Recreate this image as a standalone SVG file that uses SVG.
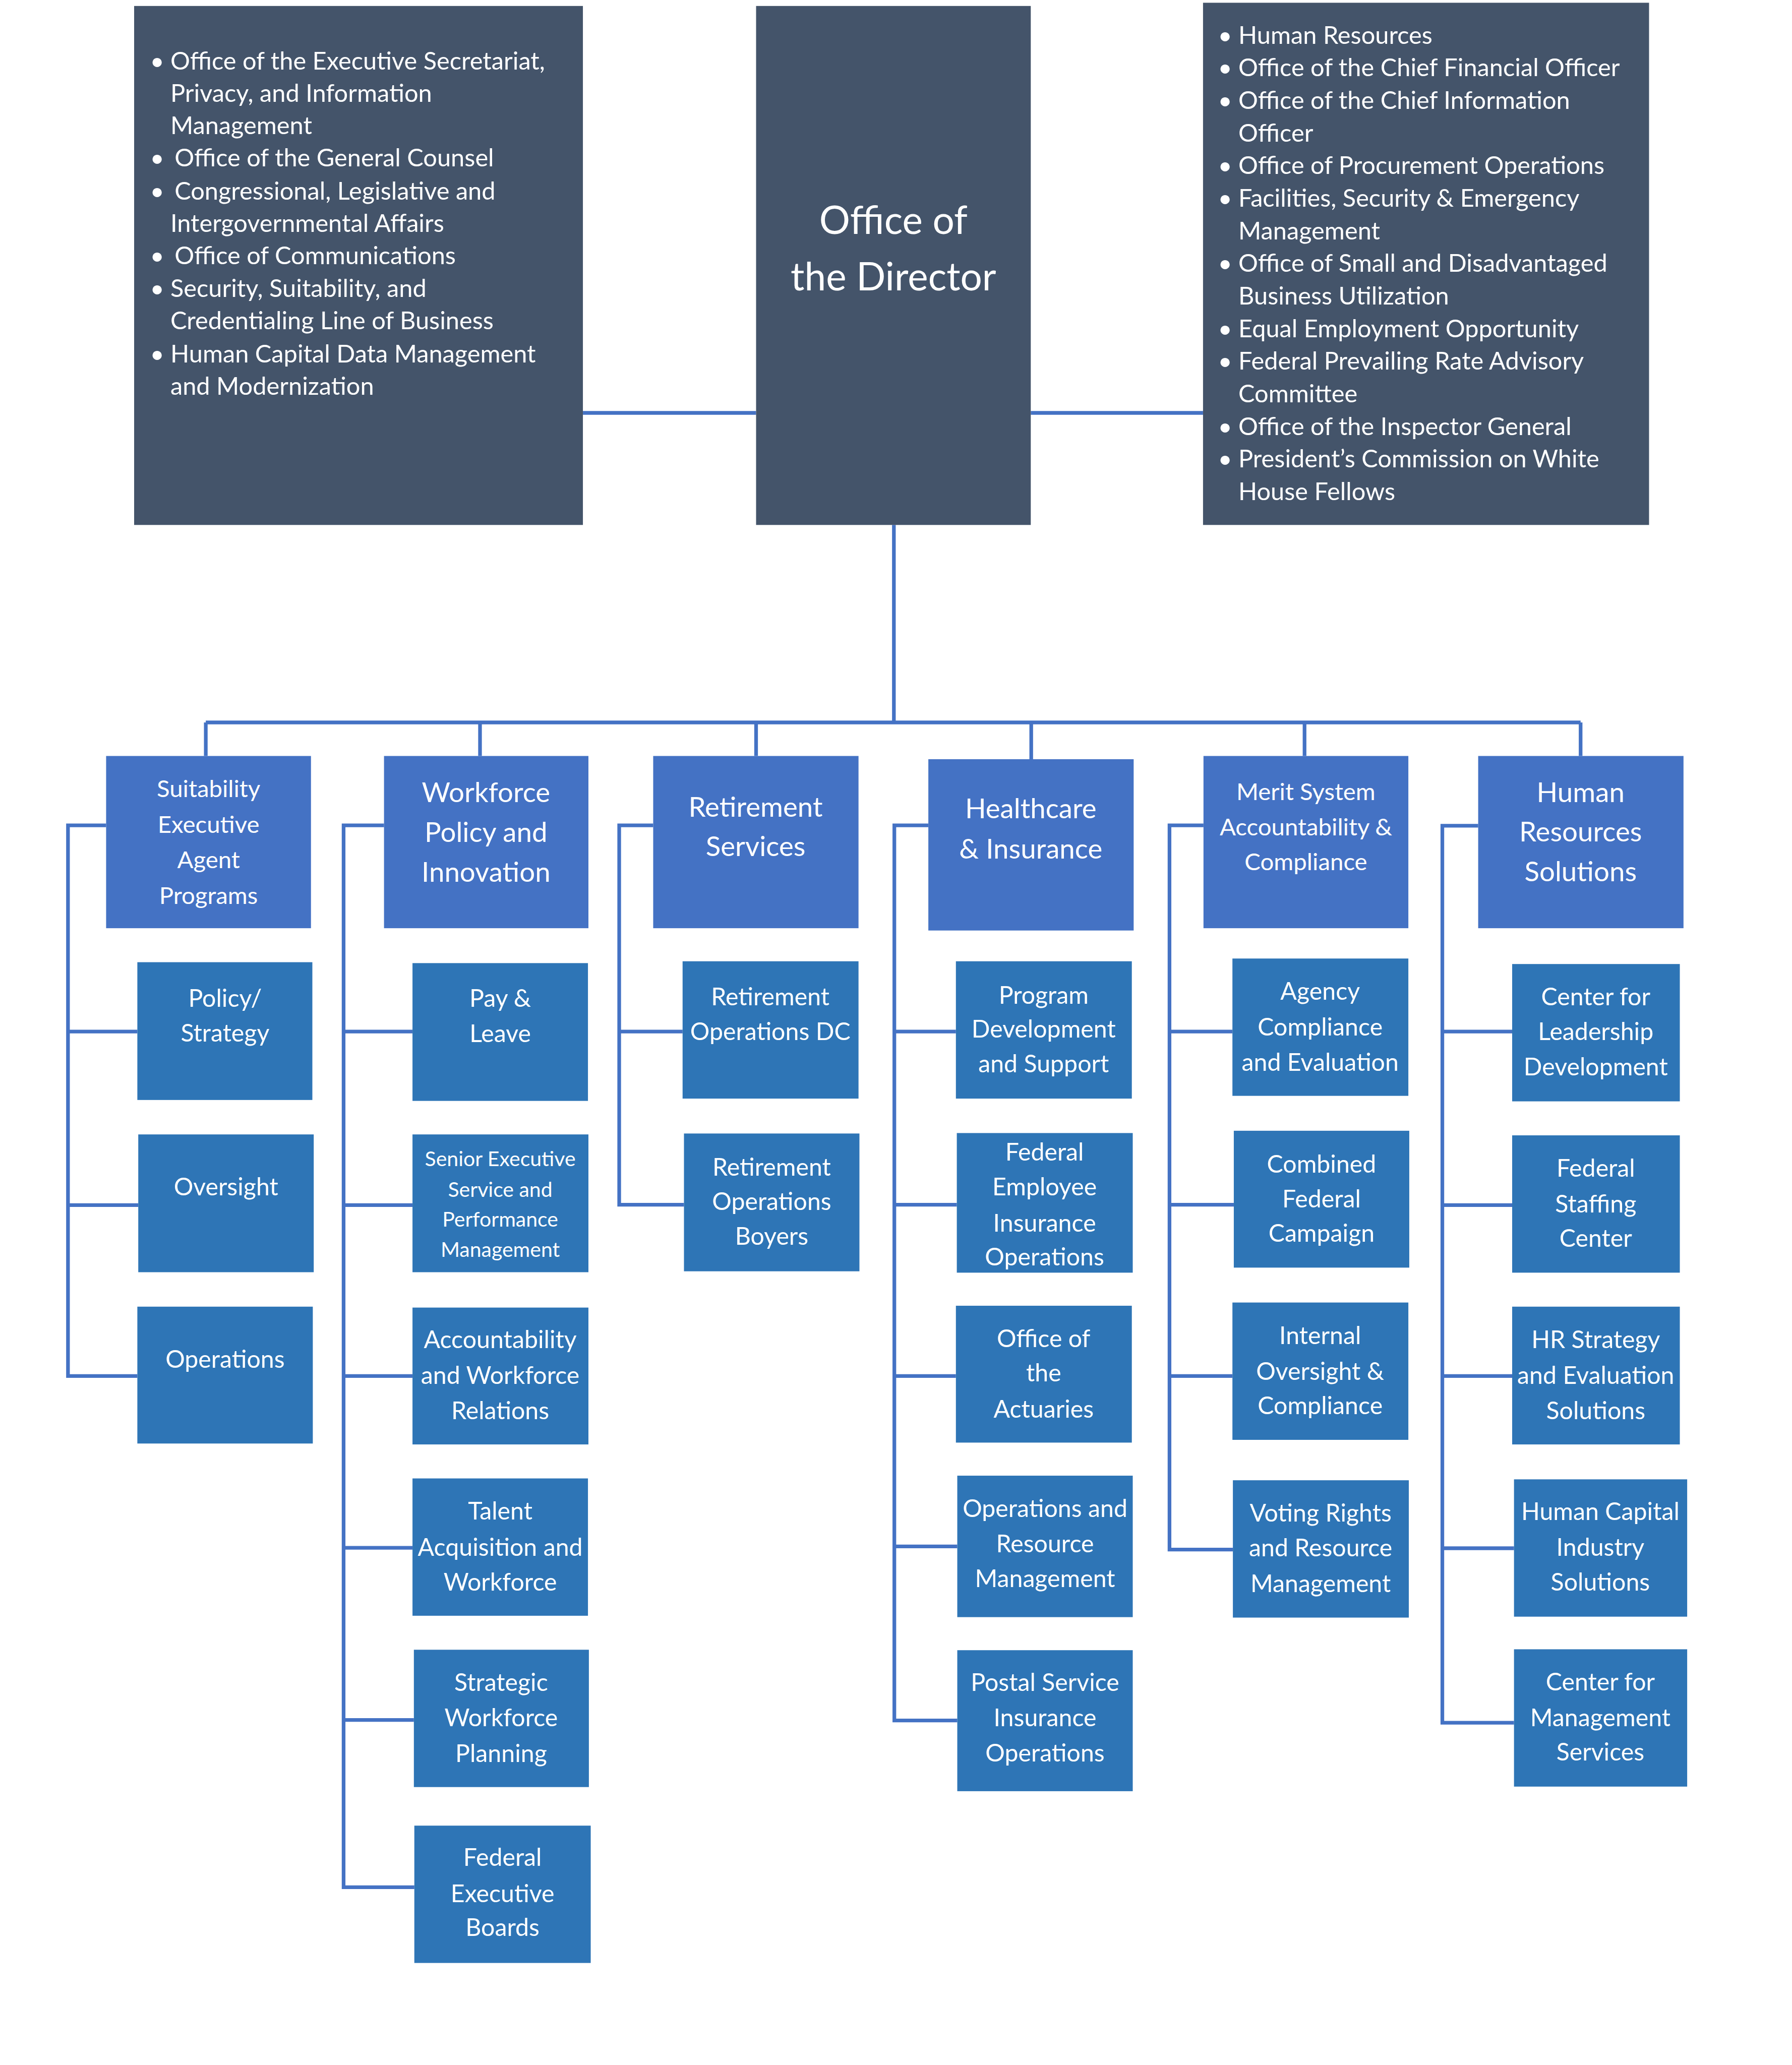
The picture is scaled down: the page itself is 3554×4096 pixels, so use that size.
<svg xmlns="http://www.w3.org/2000/svg" width="3554" height="4096" viewBox="0 0 3554 4096">
<style>
.top{fill:#44546A}
.l1{fill:#4472C4}
.l2{fill:#2E75B6}
.con path{fill:none;stroke:#4472C4;stroke-width:8}
text{font-family:Lato,"Liberation Sans",sans-serif;fill:#FFFFFF}
.c{text-anchor:middle}
.dir{font-size:84px}
.bul{font-size:53.5px}
.bdot{font-size:53.5px;text-anchor:middle}
.t1{font-size:60px;text-anchor:middle}
.t1s{font-size:52px;text-anchor:middle}
.t2{font-size:53px;text-anchor:middle}
.t2s{font-size:45px;text-anchor:middle}
</style>
<rect width="3554" height="4096" fill="#FFFFFF"/>
<g transform="scale(0.911)">
<g id="connectors" class="con">
<path d="M1269 899H1646"/>
<path d="M2244 899H2619"/>
<path d="M1946 1143V1573"/>
<path d="M448 1573H3441"/>
<path d="M448 1573V1646M1045 1573V1646M1646 1573V1646M2245 1573V1653M2840 1573V1646M3441 1573V1646"/>
<path d="M231 1797H148V2996H299M148 2246H299M148 2624H301"/>
<path d="M836 1797H748V4109H902M748 2246H898M748 2624H898M748 2996H898M748 3370H898M748 3745H901"/>
<path d="M1422 1797H1348V2623H1489M1348 2246H1486"/>
<path d="M2021 1797H1947V3746H2084M1947 2246H2081M1947 2623H2083M1947 2996H2081M1947 3367H2084"/>
<path d="M2620 1797H2546V3374H2684M2546 2246H2683M2546 2623H2686M2546 2996H2683"/>
<path d="M3218 1798H3140V3751H3296M3140 2246H3292M3140 2624H3292M3140 2996H3292M3140 3371H3296"/>
</g>
<g id="staff-left">
<rect class="top" x="292" y="13" width="977" height="1130"/>
<text class="bdot" x="342" y="152">•</text><text class="bul" x="371" y="152">Office of the Executive Secretariat,</text>
<text class="bul" x="371" y="222">Privacy, and Information</text>
<text class="bul" x="371" y="292">Management</text>
<text class="bdot" x="342" y="362">•</text><text class="bul" x="380" y="362">Office of the General Counsel</text>
<text class="bdot" x="342" y="435">•</text><text class="bul" x="380" y="435">Congressional, Legislative and</text>
<text class="bul" x="371" y="505">Intergovernmental Affairs</text>
<text class="bdot" x="342" y="575">•</text><text class="bul" x="380" y="575">Office of Communications</text>
<text class="bdot" x="342" y="647">•</text><text class="bul" x="371" y="647">Security, Suitability, and</text>
<text class="bul" x="371" y="717">Credentialing Line of Business</text>
<text class="bdot" x="342" y="789">•</text><text class="bul" x="371" y="789">Human Capital Data Management</text>
<text class="bul" x="371" y="860">and Modernization</text>
</g>
<g id="director">
<rect class="top" x="1646" y="13" width="598" height="1130"/>
<text class="dir c" x="1945" y="509">Office of</text>
<text class="dir c" x="1945" y="632">the Director</text>
</g>
<g id="staff-right">
<rect class="top" x="2619" y="6" width="971" height="1137"/>
<text class="bdot" x="2667" y="95">•</text><text class="bul" x="2696" y="95">Human Resources</text>
<text class="bdot" x="2667" y="166">•</text><text class="bul" x="2696" y="166">Office of the Chief Financial Officer</text>
<text class="bdot" x="2667" y="237">•</text><text class="bul" x="2696" y="237">Office of the Chief Information</text>
<text class="bul" x="2696" y="308">Officer</text>
<text class="bdot" x="2667" y="379">•</text><text class="bul" x="2696" y="379">Office of Procurement Operations</text>
<text class="bdot" x="2667" y="450">•</text><text class="bul" x="2696" y="450">Facilities, Security &amp; Emergency</text>
<text class="bul" x="2696" y="521">Management</text>
<text class="bdot" x="2667" y="592">•</text><text class="bul" x="2696" y="592">Office of Small and Disadvantaged</text>
<text class="bul" x="2696" y="663">Business Utilization</text>
<text class="bdot" x="2667" y="734">•</text><text class="bul" x="2696" y="734">Equal Employment Opportunity</text>
<text class="bdot" x="2667" y="805">•</text><text class="bul" x="2696" y="805">Federal Prevailing Rate Advisory</text>
<text class="bul" x="2696" y="876">Committee</text>
<text class="bdot" x="2667" y="947">•</text><text class="bul" x="2696" y="947">Office of the Inspector General</text>
<text class="bdot" x="2667" y="1018">•</text><text class="bul" x="2696" y="1018">President’s Commission on White</text>
<text class="bul" x="2696" y="1089">House Fellows</text>
</g>
<g id="suitability">
<rect class="l1" x="231" y="1646" width="446" height="375"/>
<text class="t1s" x="454" y="1735">Suitability</text>
<text class="t1s" x="454" y="1813">Executive</text>
<text class="t1s" x="454" y="1890">Agent</text>
<text class="t1s" x="454" y="1968">Programs</text>
</g>
<g id="workforce">
<rect class="l1" x="836" y="1646" width="445" height="375"/>
<text class="t1" x="1058" y="1746">Workforce</text>
<text class="t1" x="1058" y="1833">Policy and</text>
<text class="t1" x="1058" y="1920">Innovation</text>
</g>
<g id="retirement">
<rect class="l1" x="1422" y="1646" width="447" height="375"/>
<text class="t1" x="1645" y="1778">Retirement</text>
<text class="t1" x="1645" y="1864">Services</text>
</g>
<g id="healthcare">
<rect class="l1" x="2021" y="1653" width="447" height="373"/>
<text class="t1" x="2244" y="1782">Healthcare</text>
<text class="t1" x="2244" y="1869">&amp; Insurance</text>
</g>
<g id="merit">
<rect class="l1" x="2620" y="1646" width="446" height="375"/>
<text class="t1s" x="2843" y="1742">Merit System</text>
<text class="t1s" x="2843" y="1819">Accountability &amp;</text>
<text class="t1s" x="2843" y="1895">Compliance</text>
</g>
<g id="hrs">
<rect class="l1" x="3218" y="1646" width="447" height="375"/>
<text class="t1" x="3441" y="1746">Human</text>
<text class="t1" x="3441" y="1832">Resources</text>
<text class="t1" x="3441" y="1919">Solutions</text>
</g>
<g id="policy-strategy">
<rect class="l2" x="299" y="2095" width="381" height="300"/>
<text class="t2" x="490" y="2192">Policy/</text>
<text class="t2" x="490" y="2268">Strategy</text>
</g>
<g id="oversight">
<rect class="l2" x="301" y="2470" width="382" height="300"/>
<text class="t2" x="492" y="2603">Oversight</text>
</g>
<g id="operations">
<rect class="l2" x="299" y="2845" width="382" height="298"/>
<text class="t2" x="490" y="2978">Operations</text>
</g>
<g id="pay-leave">
<rect class="l2" x="898" y="2097" width="382" height="300"/>
<text class="t2" x="1089" y="2192">Pay &amp;</text>
<text class="t2" x="1089" y="2269">Leave</text>
</g>
<g id="ses">
<rect class="l2" x="898" y="2470" width="383" height="300"/>
<text class="t2s" x="1089" y="2539">Senior Executive</text>
<text class="t2s" x="1089" y="2606">Service and</text>
<text class="t2s" x="1089" y="2671">Performance</text>
<text class="t2s" x="1089" y="2737">Management</text>
</g>
<g id="accountability">
<rect class="l2" x="898" y="2847" width="383" height="298"/>
<text class="t2" x="1089" y="2935">Accountability</text>
<text class="t2" x="1089" y="3013">and Workforce</text>
<text class="t2" x="1089" y="3090">Relations</text>
</g>
<g id="talent">
<rect class="l2" x="898" y="3219" width="382" height="299"/>
<text class="t2" x="1089" y="3308">Talent</text>
<text class="t2" x="1089" y="3387">Acquisition and</text>
<text class="t2" x="1089" y="3463">Workforce</text>
</g>
<g id="strategic">
<rect class="l2" x="901" y="3592" width="381" height="299"/>
<text class="t2" x="1091" y="3682">Strategic</text>
<text class="t2" x="1091" y="3759">Workforce</text>
<text class="t2" x="1091" y="3836">Planning</text>
</g>
<g id="feb">
<rect class="l2" x="902" y="3975" width="384" height="299"/>
<text class="t2" x="1094" y="4063">Federal</text>
<text class="t2" x="1094" y="4142">Executive</text>
<text class="t2" x="1094" y="4215">Boards</text>
</g>
<g id="ret-dc">
<rect class="l2" x="1486" y="2093" width="383" height="299"/>
<text class="t2" x="1677" y="2189">Retirement</text>
<text class="t2" x="1677" y="2265">Operations DC</text>
</g>
<g id="ret-boyers">
<rect class="l2" x="1489" y="2468" width="382" height="300"/>
<text class="t2" x="1680" y="2560">Retirement</text>
<text class="t2" x="1680" y="2634">Operations</text>
<text class="t2" x="1680" y="2710">Boyers</text>
</g>
<g id="program-dev">
<rect class="l2" x="2081" y="2093" width="383" height="299"/>
<text class="t2" x="2272" y="2186">Program</text>
<text class="t2" x="2272" y="2259">Development</text>
<text class="t2" x="2272" y="2335">and Support</text>
</g>
<g id="feio">
<rect class="l2" x="2083" y="2467" width="383" height="304"/>
<text class="t2" x="2274" y="2527">Federal</text>
<text class="t2" x="2274" y="2603">Employee</text>
<text class="t2" x="2274" y="2682">Insurance</text>
<text class="t2" x="2274" y="2755">Operations</text>
</g>
<g id="actuaries">
<rect class="l2" x="2081" y="2843" width="383" height="298"/>
<text class="t2" x="2272" y="2933">Office of</text>
<text class="t2" x="2272" y="3008">the</text>
<text class="t2" x="2272" y="3087">Actuaries</text>
</g>
<g id="ops-resource">
<rect class="l2" x="2084" y="3213" width="382" height="308"/>
<text class="t2" x="2275" y="3303">Operations and</text>
<text class="t2" x="2275" y="3380">Resource</text>
<text class="t2" x="2275" y="3456">Management</text>
</g>
<g id="postal">
<rect class="l2" x="2084" y="3593" width="382" height="307"/>
<text class="t2" x="2275" y="3682">Postal Service</text>
<text class="t2" x="2275" y="3759">Insurance</text>
<text class="t2" x="2275" y="3835">Operations</text>
</g>
<g id="agency-compliance">
<rect class="l2" x="2683" y="2087" width="383" height="299"/>
<text class="t2" x="2874" y="2177">Agency</text>
<text class="t2" x="2874" y="2255">Compliance</text>
<text class="t2" x="2874" y="2331">and Evaluation</text>
</g>
<g id="cfc">
<rect class="l2" x="2686" y="2462" width="382" height="298"/>
<text class="t2" x="2877" y="2553">Combined</text>
<text class="t2" x="2877" y="2629">Federal</text>
<text class="t2" x="2877" y="2704">Campaign</text>
</g>
<g id="internal-oversight">
<rect class="l2" x="2683" y="2836" width="383" height="299"/>
<text class="t2" x="2874" y="2927">Internal</text>
<text class="t2" x="2874" y="3004">Oversight &amp;</text>
<text class="t2" x="2874" y="3079">Compliance</text>
</g>
<g id="voting-rights">
<rect class="l2" x="2684" y="3223" width="383" height="299"/>
<text class="t2" x="2875" y="3313">Voting Rights</text>
<text class="t2" x="2875" y="3389">and Resource</text>
<text class="t2" x="2875" y="3466">Management</text>
</g>
<g id="leadership">
<rect class="l2" x="3292" y="2099" width="365" height="299"/>
<text class="t2" x="3474" y="2189">Center for</text>
<text class="t2" x="3474" y="2265">Leadership</text>
<text class="t2" x="3474" y="2341">Development</text>
</g>
<g id="staffing">
<rect class="l2" x="3292" y="2472" width="365" height="299"/>
<text class="t2" x="3474" y="2562">Federal</text>
<text class="t2" x="3474" y="2640">Staffing</text>
<text class="t2" x="3474" y="2715">Center</text>
</g>
<g id="hr-strategy">
<rect class="l2" x="3292" y="2845" width="365" height="300"/>
<text class="t2" x="3474" y="2935">HR Strategy</text>
<text class="t2" x="3474" y="3013">and Evaluation</text>
<text class="t2" x="3474" y="3090">Solutions</text>
</g>
<g id="hci">
<rect class="l2" x="3296" y="3221" width="377" height="299"/>
<text class="t2" x="3484" y="3310">Human Capital</text>
<text class="t2" x="3484" y="3387">Industry</text>
<text class="t2" x="3484" y="3463">Solutions</text>
</g>
<g id="management-services">
<rect class="l2" x="3296" y="3591" width="377" height="299"/>
<text class="t2" x="3484" y="3681">Center for</text>
<text class="t2" x="3484" y="3758">Management</text>
<text class="t2" x="3484" y="3833">Services</text>
</g>
</g>
</svg>
